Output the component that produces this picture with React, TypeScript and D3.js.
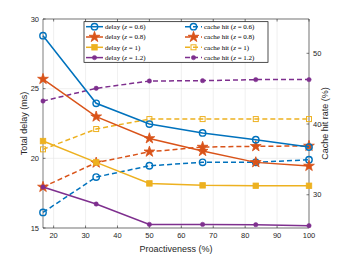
import React from 'react';
import * as d3 from 'd3';

const proactiveness = [16.67, 33.33, 50, 66.67, 83.33, 100];
const zLabels = ['0.6', '0.8', '1', '1.2'];
const colors = ['#0072BD', '#D95319', '#EDB120', '#7E2F8E'];
const markers = ['circle', 'star', 'square', 'dot'];

const delay06 = [28.8, 23.95, 22.46, 21.82, 21.34, 20.81];
const delay08 = [25.69, 22.99, 21.43, 20.52, 19.71, 19.45];
const delay10 = [21.24, 19.71, 18.2, 18.06, 18.03, 18.03];
const delay12 = [17.94, 16.72, 15.26, 15.26, 15.24, 15.17];

const hit06 = [27.5, 32.5, 34.1, 34.58, 34.58, 34.95];
const hit08 = [31.1, 34.53, 36.08, 36.75, 36.85, 36.9];
const hit10 = [36.42, 39.29, 40.7, 40.7, 40.7, 40.7];
const hit12 = [43.25, 45.05, 46.08, 46.13, 46.28, 46.28];

const xTicks = [20, 30, 40, 50, 60, 70, 80, 90, 100];
const yLeftTicks = [15, 20, 25, 30];
const yRightTicks = [30, 40, 50];

const W = 341;
const H = 256;
const M = { left: 43, right: 32, top: 19, bottom: 28 };

const Marker: React.FC<{ kind: string; x: number; y: number; color: string; open: boolean }> = ({ kind, x, y, color, open }) => {
  if (kind === 'circle') {
    return <circle cx={x} cy={y} r={3.2} fill={open ? 'none' : color} stroke={color} strokeWidth={1.4} />;
  }
  if (kind === 'star') {
    const p = d3.symbol().type(d3.symbolStar).size(36)();
    return <path d={p || ''} transform={`translate(${x},${y})`} fill={color} stroke={color} strokeWidth={0.8} />;
  }
  if (kind === 'square') {
    const s = open ? 5 : 5.5;
    return <rect x={x - s / 2} y={y - s / 2} width={s} height={s} fill={open ? 'none' : color} stroke={color} strokeWidth={open ? 1 : 0.8} />;
  }
  return <circle cx={x} cy={y} r={2.2} fill={color} stroke={color} strokeWidth={0.5} />;
};

const App: React.FC = () => {
  const x = d3.scaleLinear().domain([16.67, 100]).range([M.left, W - M.right]);
  const yL = d3.scaleLinear().domain([15, 30]).range([H - M.bottom, M.top]);
  const yR = d3.scaleLinear().domain([25.3, 54.85]).range([H - M.bottom, M.top]);

  const delays = [delay06, delay08, delay10, delay12];
  const hits = [hit06, hit08, hit10, hit12];

  const lineL = d3.line<number>().x((_, i) => x(proactiveness[i])).y((d) => yL(d));
  const lineR = d3.line<number>().x((_, i) => x(proactiveness[i])).y((d) => yR(d));

  const x0 = M.left;
  const x1 = W - M.right;
  const y0 = M.top;
  const y1 = H - M.bottom;
  const axisColor = '#262626';
  const font = 'Helvetica, Arial, "Liberation Sans", sans-serif';

  const legendRows = zLabels.map((z, i) => ({ z, color: colors[i], kind: markers[i] }));

  return (
    <svg width={W} height={H} style={{ position: 'absolute', left: 0, top: 0 }}>
      <rect x={0} y={0} width={W} height={H} fill="#fff" />
      {/* grid */}
      {xTicks.map((t) => (
        <line key={'gx' + t} x1={x(t)} x2={x(t)} y1={y0} y2={y1} stroke="#e6e6e6" strokeWidth={0.6} />
      ))}
      {yLeftTicks.map((t) => (
        <line key={'gy' + t} x1={x0} x2={x1} y1={yL(t)} y2={yL(t)} stroke="#e6e6e6" strokeWidth={0.6} />
      ))}

      {/* box */}
      <line x1={x0} x2={x1} y1={y0} y2={y0} stroke={axisColor} strokeWidth={0.6} />
      <line x1={x0} x2={x1} y1={y1} y2={y1} stroke={axisColor} strokeWidth={0.6} />
      <line x1={x0} x2={x0} y1={y0} y2={y1} stroke={axisColor} strokeWidth={0.6} />
      <line x1={x1} x2={x1} y1={y0} y2={y1} stroke={axisColor} strokeWidth={0.6} />

      {/* ticks */}
      {xTicks.map((t) => (
        <g key={'tx' + t}>
          <line x1={x(t)} x2={x(t)} y1={y1} y2={y1 - 2.5} stroke={axisColor} strokeWidth={0.6} />
          <line x1={x(t)} x2={x(t)} y1={y0} y2={y0 + 2.5} stroke={axisColor} strokeWidth={0.6} />
          <text x={x(t)} y={y1 + 10} textAnchor="middle" fontSize={7.5} fill={axisColor} fontFamily={font}>{t}</text>
        </g>
      ))}
      {yLeftTicks.map((t) => (
        <g key={'tl' + t}>
          <line x1={x0} x2={x0 + 2.5} y1={yL(t)} y2={yL(t)} stroke={axisColor} strokeWidth={0.6} />
          <text x={x0 - 4} y={yL(t) + 2.7} textAnchor="end" fontSize={7.5} fill={axisColor} fontFamily={font}>{t}</text>
        </g>
      ))}
      {yRightTicks.map((t) => (
        <g key={'tr' + t}>
          <line x1={x1} x2={x1 - 2.5} y1={yR(t)} y2={yR(t)} stroke={axisColor} strokeWidth={0.6} />
          <text x={x1 + 4} y={yR(t) + 2.7} textAnchor="start" fontSize={7.5} fill={axisColor} fontFamily={font}>{t}</text>
        </g>
      ))}

      {/* axis labels */}
      <text x={(x0 + x1) / 2} y={H - 4} textAnchor="middle" fontSize={9} fill={axisColor} fontFamily={font}>Proactiveness (%)</text>
      <text transform={`translate(27,${(y0 + y1) / 2}) rotate(-90)`} textAnchor="middle" fontSize={9} fill={axisColor} fontFamily={font}>Total delay (ms)</text>
      <text transform={`translate(328,${(y0 + y1) / 2}) rotate(-90)`} textAnchor="middle" fontSize={9} fill={axisColor} fontFamily={font}>Cache hit rate (%)</text>

      {/* cache hit series (dashed) */}
      {hits.map((s, k) => (
        <g key={'h' + k}>
          <path d={lineR(s) || ''} fill="none" stroke={colors[k]} strokeWidth={1.5} strokeDasharray="5,3" />
          {s.map((v, i) => (
            <Marker key={i} kind={markers[k]} x={x(proactiveness[i])} y={yR(v)} color={colors[k]} open={k === 0 || k === 2} />
          ))}
        </g>
      ))}

      {/* delay series (solid) */}
      {delays.map((s, k) => (
        <g key={'d' + k}>
          <path d={lineL(s) || ''} fill="none" stroke={colors[k]} strokeWidth={1.5} />
          {s.map((v, i) => (
            <Marker key={i} kind={markers[k]} x={x(proactiveness[i])} y={yL(v)} color={colors[k]} open={k === 0} />
          ))}
        </g>
      ))}

      {/* legend */}
      <rect x={84} y={21.7} width={184} height={40.6} fill="#fff" stroke="#000" strokeWidth={0.7} />
      {legendRows.map((r, i) => {
        const ly = 26.7 + i * 10.3;
        return (
          <g key={'lg' + i}>
            <line x1={86} x2={103} y1={ly} y2={ly} stroke={r.color} strokeWidth={1.5} />
            <Marker kind={r.kind} x={94.5} y={ly} color={r.color} open={i === 0} />
            <text x={105} y={ly + 2.4} fontSize={7} fill="#000" fontFamily='"Liberation Serif", "DejaVu Serif", serif'>
              delay (<tspan fontStyle="italic">z</tspan> = {r.z})
            </text>
            <line x1={185} x2={202} y1={ly} y2={ly} stroke={r.color} strokeWidth={1.5} strokeDasharray="5,3" />
            <Marker kind={r.kind} x={193.5} y={ly} color={r.color} open={i === 0 || i === 2} />
            <text x={204} y={ly + 2.4} fontSize={7} fill="#000" fontFamily='"Liberation Serif", "DejaVu Serif", serif'>
              cache hit (<tspan fontStyle="italic">z</tspan> = {r.z})
            </text>
          </g>
        );
      })}
    </svg>
  );
};

export default App;
